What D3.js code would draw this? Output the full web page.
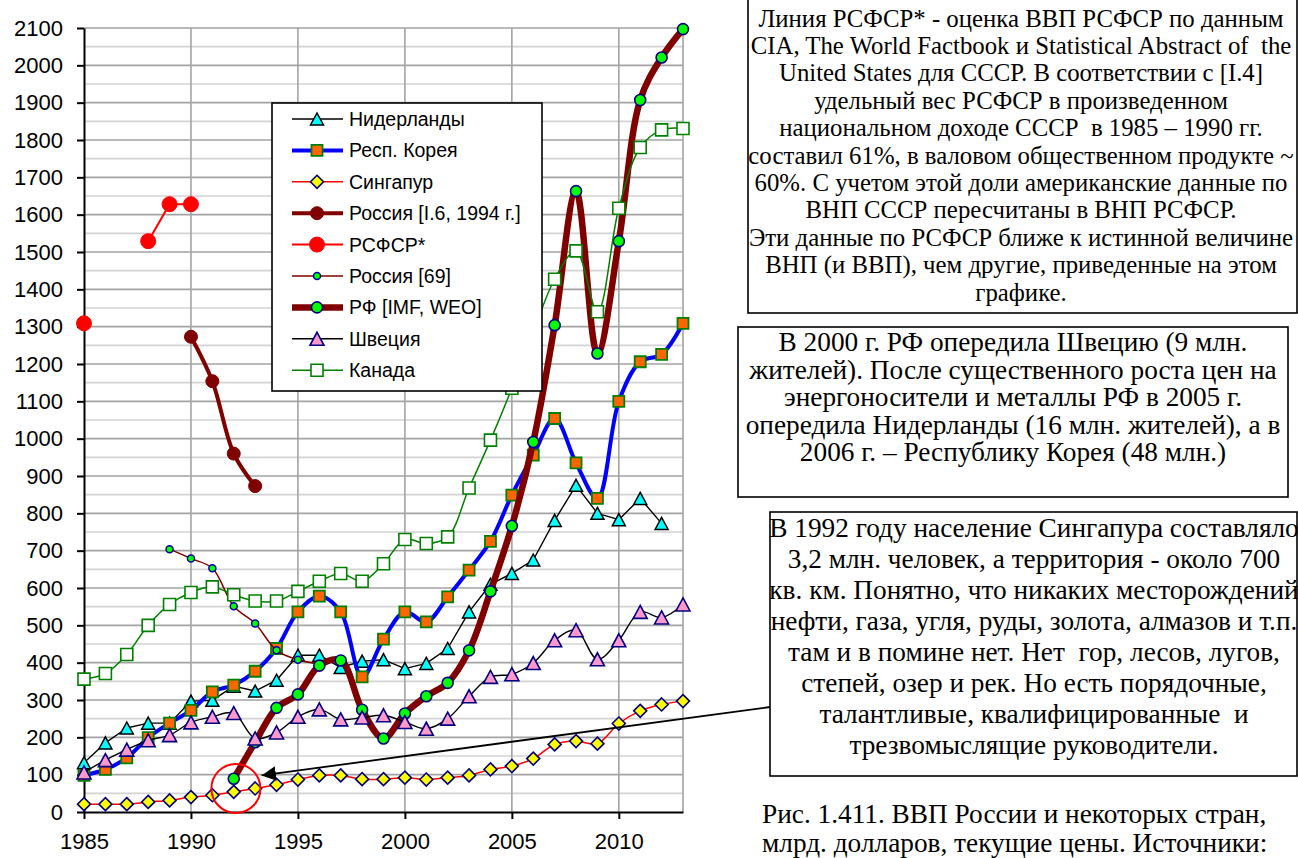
<!DOCTYPE html>
<html><head><meta charset="utf-8">
<script src="https://cdn.jsdelivr.net/npm/d3@7"></script>
<style>body{margin:0;background:#fff} text{white-space:pre}</style>
</head><body><svg id="c" width="1298" height="858"></svg>
<script>
// ---------- DATA ----------
const years = [1985,1986,1987,1988,1989,1990,1991,1992,1993,1994,1995,1996,1997,1998,1999,2000,2001,2002,2003,2004,2005,2006,2007,2008,2009,2010,2011,2012,2013];
const netherlands = [132,185,225,238,238,297,299,337,324,353,420,420,387,404,408,384,398,438,536,610,639,675,781,875,800,783,840,773,null];
const korea = [98,114,145,199,238,272,322,340,377,438,536,578,536,362,463,536,509,576,648,725,849,956,1054,935,840,1100,1206,1226,1309];
const singapore = [21,21,21,27,31,40,45,54,63,73,87,98,98,88,88,92,87,92,98,114,123,143,181,190,183,237,271,288,297];
const russiaI6Years = [1990,1991,1992,1993];
const russiaI6 = [1273,1154,960,873];
const rsfsrYears = [1985,1986,1987,1988,1989,1990];
const rsfsr = [1309,null,null,1529,1628,1628];
const russia69Years = [1989,1990,1991,1992,1993,1994,1995,1996];
const russia69 = [704,679,653,551,505,433,408,397];
const russia69Markers = [true,true,true,true,true,true,true,false];
const rfYears = [1992,1993,1994,1995,1996,1997,1998,1999,2000,2001,2002,2003,2004,2005,2006,2007,2008,2009,2010,2011,2012,2013];
const rf = [89,187,279,315,392,406,274,197,264,310,346,433,591,766,991,1304,1663,1228,1529,1907,2021,2097];
const sweden = [106,139,167,192,206,240,255,265,197,213,255,275,248,253,259,241,223,250,310,362,369,399,460,487,409,460,536,521,556];
const canada = [356,371,422,500,556,588,603,582,565,565,591,618,639,618,665,730,719,737,868,996,1135,1285,1427,1503,1340,1617,1780,1827,1831];

const legendLabels = ["Нидерланды","Респ. Корея","Сингапур","Россия [I.6, 1994 г.]","РСФСР*","Россия [69]","РФ [IMF, WEO]","Швеция","Канада"];
const yTicks = [0,100,200,300,400,500,600,700,800,900,1000,1100,1200,1300,1400,1500,1600,1700,1800,1900,2000,2100];
const xTicks = [1985,1990,1995,2000,2005,2010];

const box1Lines = ["Линия РСФСР* - оценка ВВП РСФСР по данным","CIA, The World Factbook и Statistical Abstract of  the","United States для СССР. В соответствии с [I.4]","удельный вес РСФСР в произведенном","национальном доходе СССР  в 1985 – 1990 гг.","составил 61%, в валовом общественном продукте ~","60%. С учетом этой доли американские данные по","ВНП СССР пересчитаны в ВНП РСФСР.","Эти данные по РСФСР ближе к истинной величине","ВНП (и ВВП), чем другие, приведенные на этом","графике."];
const box2Lines = ["В 2000 г. РФ опередила Швецию (9 млн.","жителей). После существенного роста цен на","энергоносители и металлы РФ в 2005 г.","опередила Нидерланды (16 млн. жителей), а в","2006 г. – Республику Корея (48 млн.)"];
const box3Lines = ["В 1992 году население Сингапура составляло","3,2 млн. человек, а территория - около 700","кв. км. Понятно, что никаких месторождений","нефти, газа, угля, руды, золота, алмазов и т.п.","там и в помине нет. Нет  гор, лесов, лугов,","степей, озер и рек. Но есть порядочные,","талантливые, квалифицированные  и","трезвомыслящие руководители."];
const captionLines = ["Рис. 1.411. ВВП России и некоторых стран,","млрд. долларов, текущие цены. Источники:"];

// ---------- SETUP ----------
const svg = d3.select("#c");
const x = d3.scaleLinear().domain([1985,2013]).range([84,683]);
const y = d3.scaleLinear().domain([0,2100]).range([812,28]);
const SANS = "'Liberation Sans', Arial, sans-serif";
const SERIF = "'Liberation Serif', 'Times New Roman', serif";

// grid
const g = svg.append("g");
const minor = d3.range(50,2100,100);
g.selectAll(".mn").data(minor).join("line").attr("x1",x(1985)).attr("x2",x(2013))
  .attr("y1",d=>y(d)).attr("y2",d=>y(d)).attr("stroke","#d3d3d3").attr("stroke-width",1.6);
g.selectAll(".mj").data(yTicks.slice(1)).join("line").attr("x1",x(1985)).attr("x2",x(2013))
  .attr("y1",d=>y(d)).attr("y2",d=>y(d)).attr("stroke","#a3a3a3").attr("stroke-width",1.6);
g.selectAll(".vg").data([1990,1995,2000,2005,2010,2013]).join("line").attr("x1",d=>x(d)).attr("x2",d=>x(d))
  .attr("y1",y(0)).attr("y2",y(2100)).attr("stroke","#a3a3a3").attr("stroke-width",1.6);

// axes
const ya = svg.append("g").attr("transform",`translate(${x(1985)},0)`)
  .call(d3.axisLeft(y).tickValues(yTicks).tickSize(7).tickSizeOuter(0).tickPadding(14).tickFormat(d3.format("d")));
const xa = svg.append("g").attr("transform",`translate(0,${y(0)})`)
  .call(d3.axisBottom(x).tickValues(xTicks).tickSize(7).tickSizeOuter(0).tickPadding(14).tickFormat(d3.format("d")));
[ya,xa].forEach(a=>{
  a.selectAll("path.domain").attr("stroke","#000").attr("stroke-width",2);
  a.selectAll(".tick line").attr("stroke","#000").attr("stroke-width",2);
  a.selectAll("text").attr("font-family",SANS).attr("font-size",22).attr("fill","#000");
});

// ---------- SERIES ----------
function triPath(w,h){return `M0,${-h/2}L${w/2},${h/2}L${-w/2},${h/2}Z`;}
function sqPath(s){return `M${-s/2},${-s/2}h${s}v${s}h${-s}Z`;}
function diaPath(s){return `M0,${-s}L${s},0L0,${s}L${-s},0Z`;}
function circPath(r){return `M${r},0A${r},${r} 0 1,1 ${-r},0A${r},${r} 0 1,1 ${r},0Z`;}

const series = [
  {name:legendLabels[0], yrs:years, vals:netherlands, color:"#000", lw:1.4, curve:d3.curveLinear, mk:triPath(13,12), fill:"#00ffff", mstroke:"#000", msw:1.5},
  {name:legendLabels[1], yrs:years, vals:korea, color:"#0000ff", lw:4, curve:d3.curveCatmullRom, mk:sqPath(11), fill:"#ff6600", mstroke:"#008000", msw:1.8},
  {name:legendLabels[2], yrs:years, vals:singapore, color:"#ff0000", lw:1.5, curve:d3.curveCatmullRom, mk:diaPath(6.5), fill:"#ffff00", mstroke:"#000080", msw:1.6},
  {name:legendLabels[3], yrs:russiaI6Years, vals:russiaI6, color:"#800000", lw:4, curve:d3.curveCatmullRom, mk:circPath(6.5), fill:"#800000", mstroke:"#800000", msw:1},
  {name:legendLabels[4], yrs:rsfsrYears, vals:rsfsr, color:"#ff0000", lw:2, curve:d3.curveLinear, mk:circPath(7.5), fill:"#ff0000", mstroke:"#ff0000", msw:1},
  {name:legendLabels[5], yrs:russia69Years, vals:russia69, color:"#800000", lw:1.5, curve:d3.curveCatmullRom, mk:circPath(3.5), fill:"#00ff00", mstroke:"#0000aa", msw:1.5, show:russia69Markers},
  {name:legendLabels[6], yrs:rfYears, vals:rf, color:"#800000", lw:6.5, curve:d3.curveCatmullRom, mk:circPath(5.5), fill:"#00ff00", mstroke:"#000080", msw:1.6},
  {name:legendLabels[7], yrs:years, vals:sweden, color:"#000", lw:1.4, curve:d3.curveCatmullRom, mk:triPath(14,13), fill:"#ff99cc", mstroke:"#000080", msw:1.6},
  {name:legendLabels[8], yrs:years, vals:canada, color:"#008000", lw:1.5, curve:d3.curveCatmullRom, mk:sqPath(12), fill:"#fff", mstroke:"#008000", msw:1.6}
];

const plot = svg.append("g");
series.forEach(s=>{
  const pts = s.yrs.map((yr,i)=>({yr, v:s.vals[i], show: s.show? s.show[i] : true}));
  const line = d3.line().defined(d=>d.v!=null).x(d=>x(d.yr)).y(d=>y(d.v)).curve(s.curve);
  const sg = plot.append("g");
  sg.append("path").attr("d",line(pts)).attr("fill","none").attr("stroke",s.color)
    .attr("stroke-width",s.lw).attr("stroke-linejoin","round").attr("stroke-linecap","round");
  sg.selectAll("path.m").data(pts.filter(d=>d.v!=null && d.show)).join("path").attr("class","m")
    .attr("d",s.mk).attr("transform",d=>`translate(${x(d.yr)},${y(d.v)})`)
    .attr("fill",s.fill).attr("stroke",s.mstroke).attr("stroke-width",s.msw);
});

// ---------- LEGEND ----------
const lg = svg.append("g");
lg.append("rect").attr("x",272).attr("y",103).attr("width",270).attr("height",288)
  .attr("fill","#fff").attr("stroke","#000").attr("stroke-width",1.6);
series.forEach((s,i)=>{
  const cy = 119 + i*31.4;
  lg.append("line").attr("x1",292).attr("x2",343).attr("y1",cy).attr("y2",cy)
    .attr("stroke",s.color).attr("stroke-width",s.lw);
  lg.append("path").attr("d",s.mk).attr("transform",`translate(317,${cy})`)
    .attr("fill",s.fill).attr("stroke",s.mstroke).attr("stroke-width",s.msw);
  lg.append("text").attr("x",349).attr("y",cy).attr("dy","0.36em").text(s.name)
    .attr("font-family",SANS).attr("font-size",19.5).attr("fill","#000");
});

// ---------- ANNOTATIONS ----------
svg.append("circle").attr("cx",x(1992.1)).attr("cy",y(63)).attr("r",24.5)
  .attr("fill","none").attr("stroke","#ff0000").attr("stroke-width",2);

const defs = svg.append("defs");
defs.append("marker").attr("id","ah").attr("viewBox","0 0 10 10").attr("refX",10).attr("refY",5)
  .attr("markerWidth",8).attr("markerHeight",8).attr("markerUnits","strokeWidth").attr("orient","auto")
  .append("path").attr("d","M0,0L10,5L0,10Z").attr("fill","#000");
svg.append("line").attr("x1",770).attr("y1",707).attr("x2",x(1993.3)).attr("y2",y(98))
  .attr("stroke","#000").attr("stroke-width",1.8).attr("marker-end","url(#ah)");

function textBox(lines, bx, by, bw, bh, cx, y0, step, fs){
  const tb = svg.append("g");
  tb.append("rect").attr("x",bx).attr("y",by).attr("width",bw).attr("height",bh)
    .attr("fill","#fff").attr("stroke","#000").attr("stroke-width",1.6);
  lines.forEach((t,i)=>tb.append("text").attr("x",cx).attr("y",y0+i*step).attr("dy","0.33em")
    .attr("text-anchor","middle").attr("font-family",SERIF).attr("font-size",fs).attr("fill","#000").text(t));
}
textBox(box1Lines, 748, -2, 549, 315, 1021, 18.5, 27.4, 24.8);
textBox(box2Lines, 738, 327, 550, 170, 1013, 342, 27.6, 27.3);
textBox(box3Lines, 770, 512, 527, 264, 1034, 528, 31, 27.3);
captionLines.forEach((t,i)=>svg.append("text").attr("x",762).attr("y",814+i*29).attr("dy","0.33em")
  .attr("font-family",SERIF).attr("font-size",27.3).attr("fill","#000").text(t));
</script></body></html>
